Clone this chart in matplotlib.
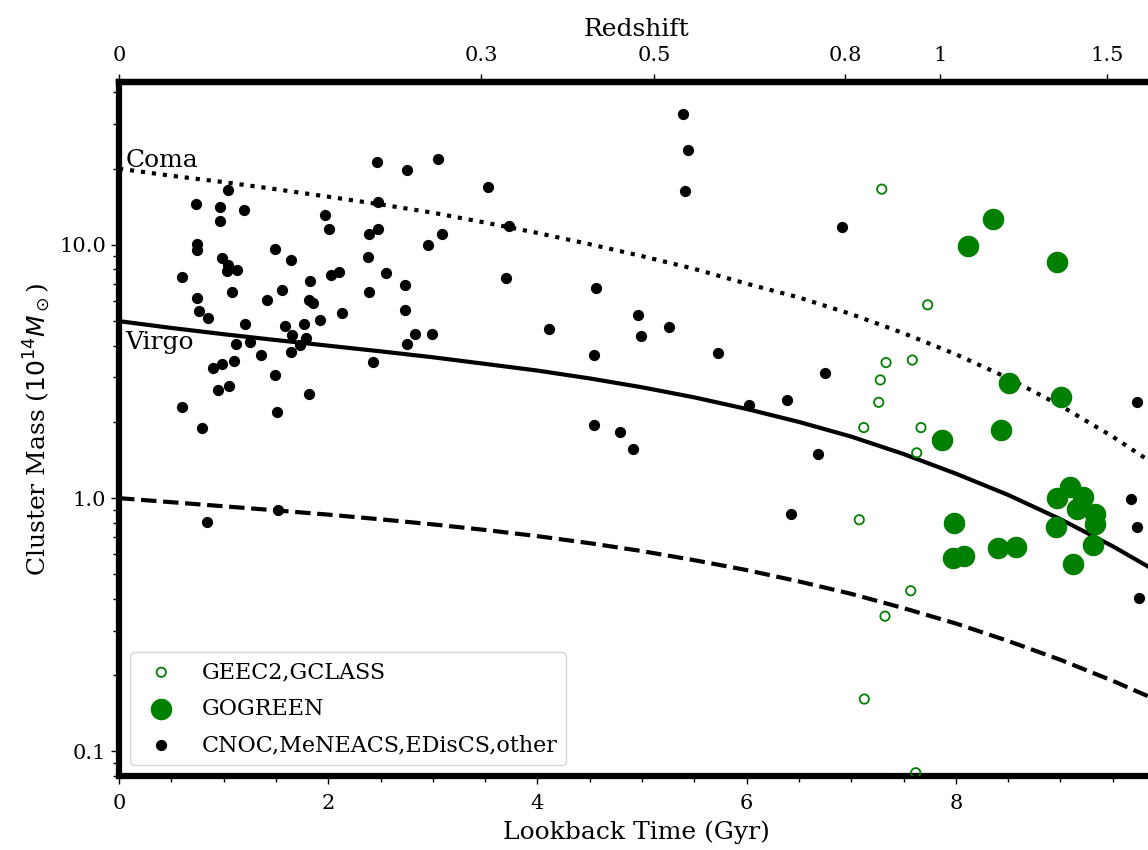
import matplotlib
matplotlib.use("Agg")
import matplotlib.pyplot as plt
from matplotlib.ticker import FixedLocator, MultipleLocator, FormatStrFormatter, LogLocator, NullFormatter

plt.rcParams['font.family'] = 'DejaVu Serif'

# CNOC, MeNEACS, EDisCS, other (lookback time in Gyr, mass in 1e14 Msun)
black_t = [1.045, 0.733, 0.966, 1.195, 0.966, 0.746, 0.746, 1.491, 1.644, 0.988,
           1.045, 1.128, 1.030, 0.605, 1.826, 1.555, 1.080, 1.412, 1.819, 1.858,
           0.746, 0.765, 0.854, 1.205, 1.587, 1.772, 1.651, 1.785, 1.730, 1.116,
           1.252, 1.355, 1.641, 0.902, 0.982, 1.102, 1.489, 0.944, 1.054, 1.819,
           0.605, 1.508, 0.796, 1.523, 0.838,
           2.464, 2.756, 3.053, 3.525, 2.473, 1.969, 2.005, 2.473, 2.387, 3.088,
           2.951, 2.378, 2.024, 2.106, 2.550, 2.734, 2.387, 2.135, 2.734, 1.922,
           2.830, 2.990, 2.756, 2.425,
           5.395, 5.443, 5.408, 6.912, 3.731, 3.703, 4.560, 4.111, 4.965, 4.990,
           5.255, 4.541, 5.724, 6.747, 6.023, 6.389, 4.541, 4.793, 4.917, 6.680,
           6.424, 9.675, 9.730, 9.754, 9.735]
black_m = [16.4, 14.5, 14.1, 13.7, 12.4, 10.1, 9.55, 9.62, 8.73, 8.87,
           8.34, 7.97, 7.89, 7.46, 7.23, 6.64, 6.54, 6.07, 6.07, 5.92,
           6.17, 5.46, 5.13, 4.88, 4.78, 4.89, 4.42, 4.28, 4.04, 4.07,
           4.15, 3.68, 3.77, 3.28, 3.38, 3.47, 3.07, 2.68, 2.78, 2.58,
           2.29, 2.19, 1.89, 0.902, 0.804,
           21.2, 19.8, 21.8, 17.0, 14.8, 13.1, 11.6, 11.6, 11.0, 11.0,
           10.0, 8.99, 7.62, 7.80, 7.73, 6.93, 6.53, 5.36, 5.54, 5.05,
           4.46, 4.46, 4.06, 3.46,
           32.8, 23.7, 16.3, 11.8, 11.9, 7.43, 6.73, 4.65, 5.30, 4.35,
           4.72, 3.67, 3.74, 3.12, 2.34, 2.44, 1.94, 1.82, 1.56, 1.49,
           0.869, 0.995, 0.769, 0.402, 2.39]

# GEEC2, GCLASS
geec_t = [7.292, 7.731, 7.333, 7.584, 7.278, 7.263, 7.120, 7.667, 7.626, 7.077,
          7.569, 7.323, 7.125, 7.617]
geec_m = [16.6, 5.80, 3.43, 3.51, 2.93, 2.39, 1.90, 1.90, 1.51, 0.822,
          0.431, 0.342, 0.161, 0.0824]

# GOGREEN
gogreen_t = [8.353, 8.114, 8.965, 8.509, 9.006, 8.432, 7.865, 8.970, 9.092, 9.213,
             9.156, 9.331, 9.331, 8.955, 9.315, 9.118, 7.986, 7.970, 8.081, 8.400,
             8.573]
gogreen_m = [12.6, 9.91, 8.59, 2.86, 2.52, 1.85, 1.69, 1.00, 1.11, 1.01,
             0.906, 0.869, 0.793, 0.769, 0.651, 0.552, 0.798, 0.583, 0.593, 0.637,
             0.642]

track_t = [0, 0.5, 1, 1.5, 2, 2.5, 3, 3.5, 4, 4.5, 5, 5.5, 6, 6.5, 7, 7.5,
           8, 8.5, 9, 9.5, 9.9]
coma_m = [20.0, 18.75, 17.7, 16.59, 15.5, 14.45, 13.4, 12.25, 11.15, 10.06, 9.03,
          8.04, 7.03, 6.20, 5.33, 4.48, 3.70, 2.98, 2.32, 1.75, 1.36]
virgo_m = [5.0, 4.70, 4.44, 4.21, 4.00, 3.80, 3.60, 3.39, 3.19, 2.97, 2.74,
           2.50, 2.25, 2.00, 1.75, 1.494, 1.25, 1.03, 0.826, 0.646, 0.519]
low_m = [1.0, 0.964, 0.929, 0.895, 0.861, 0.825, 0.788, 0.749, 0.708, 0.664, 0.618,
         0.569, 0.520, 0.469, 0.419, 0.368, 0.320, 0.273, 0.230, 0.190, 0.161]

# top axis: redshift labels and their lookback times
z_labels = ['0', '0.3', '0.5', '0.8', '1', '1.5']
z_lookback = [0.0, 3.465, 5.117, 6.94, 7.85, 9.45]

fig = plt.figure(figsize=(11.48, 8.5), dpi=100)
ax = fig.add_axes([0.1037, 0.0871, 0.902, 0.8165])

ax.plot(track_t, coma_m, ':', color='k', lw=3)
ax.plot(track_t, virgo_m, '-', color='k', lw=3)
ax.plot(track_t, low_m, '--', color='k', lw=3)

ax.scatter(geec_t, geec_m, s=45, facecolors='none', edgecolors='green', linewidths=1.3,
           label='GEEC2,GCLASS', zorder=3)
ax.scatter(gogreen_t, gogreen_m, s=210, color='green', label='GOGREEN', zorder=3)
ax.scatter(black_t, black_m, s=50, color='k', label='CNOC,MeNEACS,EDisCS,other', zorder=3)

ax.text(0.06, 21.6, 'Coma', fontsize=18, ha='left', va='center')
ax.text(0.06, 4.1, 'Virgo', fontsize=18, ha='left', va='center')

ax.set_yscale('log')
ax.set_xlim(0, 9.9)
ax.set_ylim(0.08, 44)
ax.yaxis.set_major_locator(FixedLocator([0.1, 1.0, 10.0]))
ax.yaxis.set_major_formatter(FormatStrFormatter('%.1f'))
ax.yaxis.set_minor_locator(LogLocator(base=10, subs=range(2, 10)))
ax.yaxis.set_minor_formatter(NullFormatter())
ax.xaxis.set_major_locator(MultipleLocator(2))
ax.xaxis.set_minor_locator(MultipleLocator(0.5))

ax.set_xlabel('Lookback Time (Gyr)', fontsize=18, labelpad=5.5)
ax.set_ylabel(r'Cluster Mass ($10^{14} M_\odot$)', fontsize=18)
ax.tick_params(which='both', labelsize=15, top=False, right=False)
ax.tick_params(which='major', length=6, width=1)
ax.tick_params(which='minor', length=4, width=1)
ax.tick_params(axis='x', which='both', pad=7)
for sp in ax.spines.values():
    sp.set_linewidth(4.5)

sec = ax.secondary_xaxis('top')
sec.set_xticks(z_lookback, labels=z_labels)
sec.tick_params(labelsize=15, length=6, width=1, pad=6.5)
sec.set_xlabel('Redshift', fontsize=18, labelpad=7)
sec.spines['top'].set_linewidth(4.5)

ax.legend(loc='lower left', fontsize=16, scatterpoints=1, borderaxespad=0.5,
          labelspacing=0.65)

fig.savefig('out.png', dpi=100)
